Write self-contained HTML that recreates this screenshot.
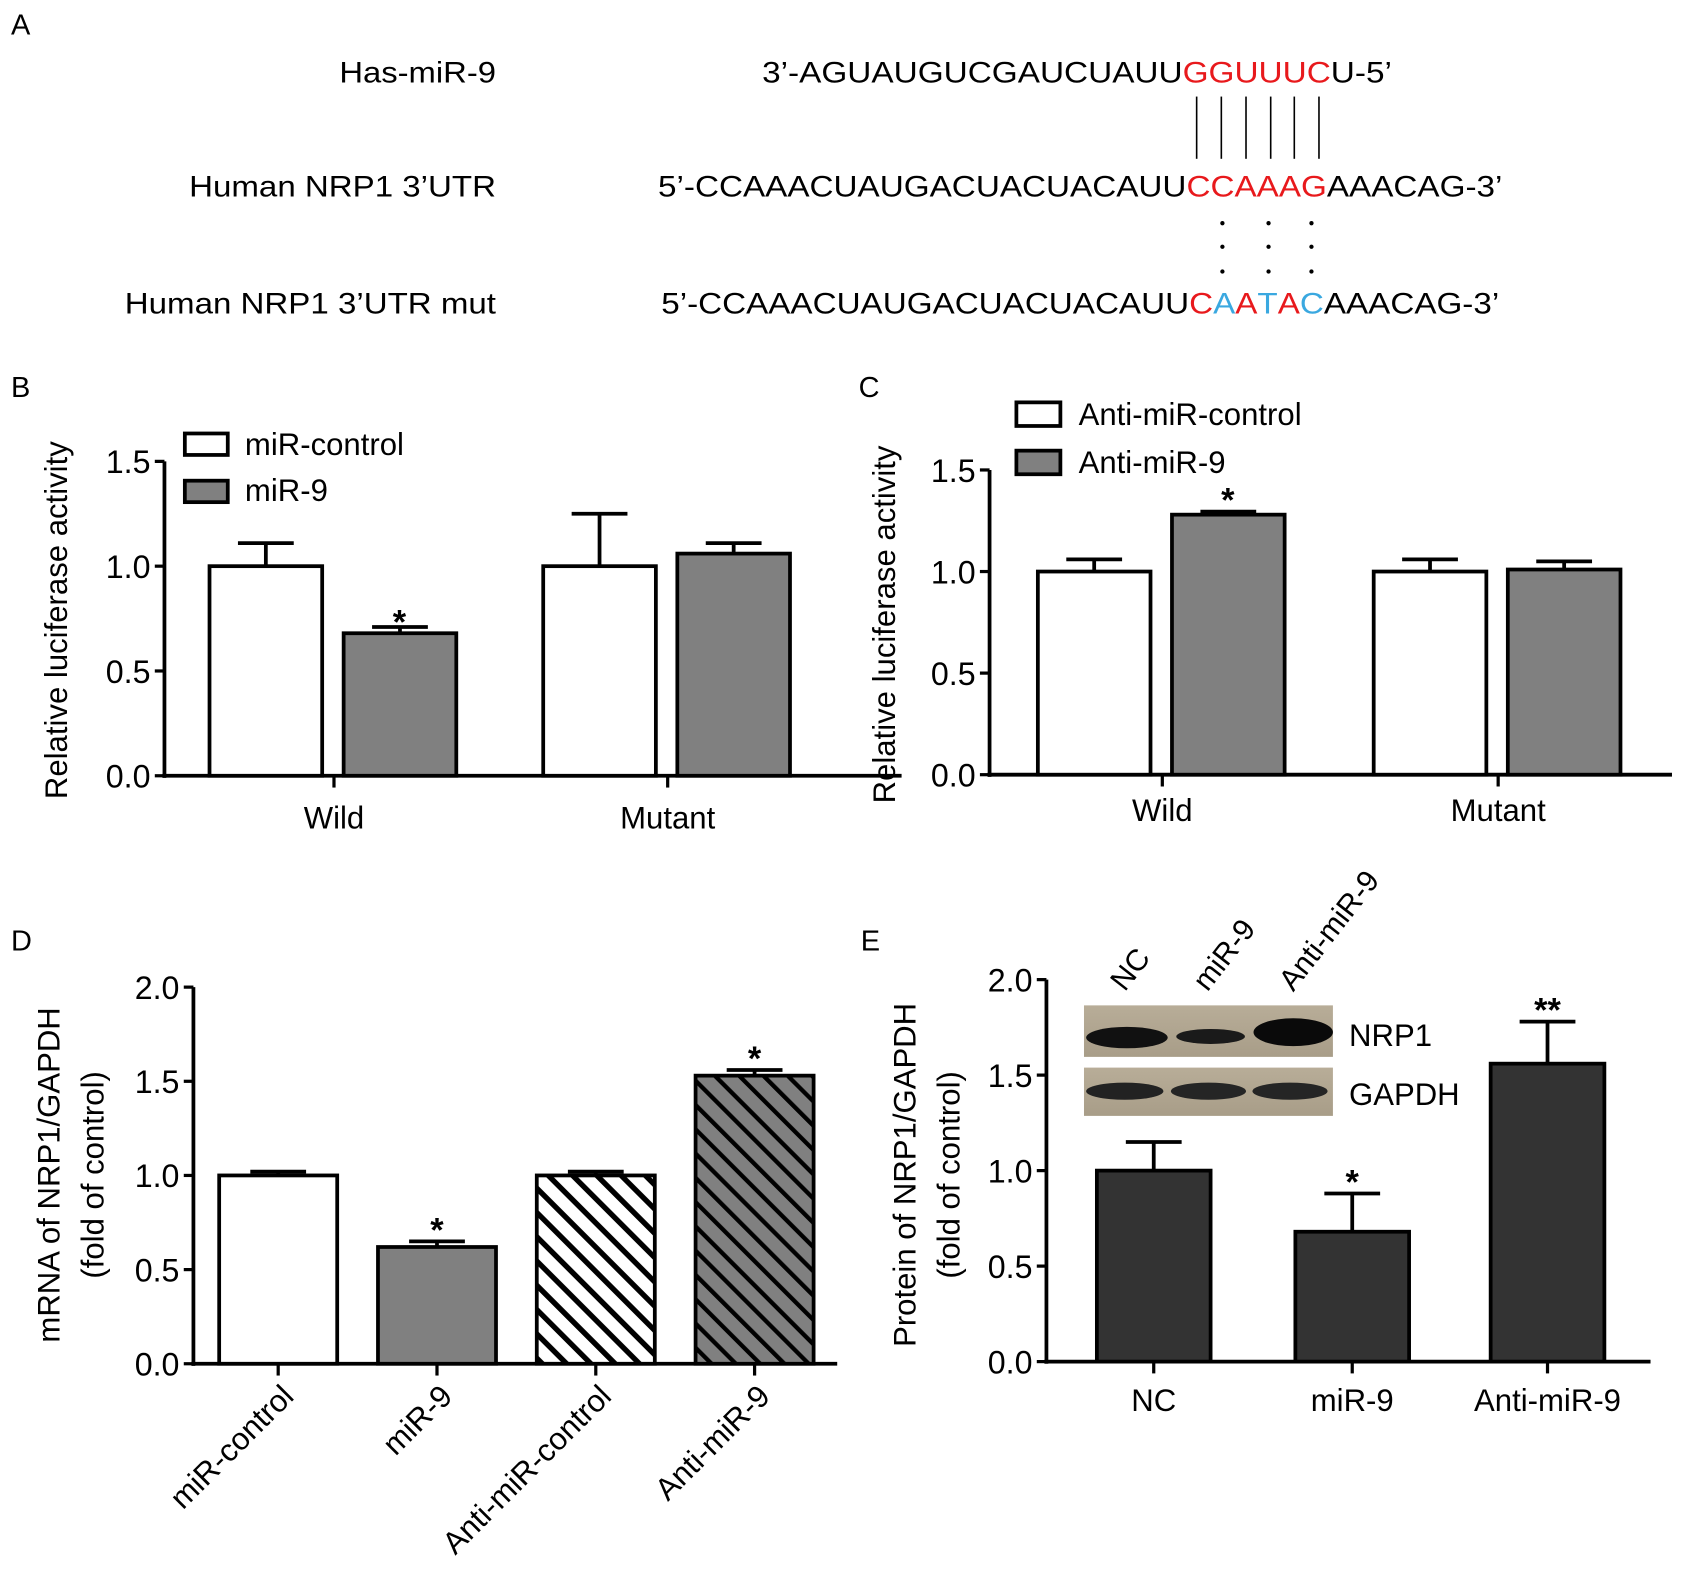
<!DOCTYPE html>
<html><head><meta charset="utf-8"><style>
html,body{margin:0;padding:0;background:#fff}
svg{display:block;font-family:"Liberation Sans",Arial,sans-serif}
</style></head><body>
<svg id="fig" width="1683" height="1588" viewBox="0 0 1568 1480" xmlns="http://www.w3.org/2000/svg">
<defs>
<pattern id="hatchW" patternUnits="userSpaceOnUse" width="16" height="16" patternTransform="rotate(-45)"><rect width="16" height="16" fill="#fff"/><rect x="0" y="0" width="5" height="16" fill="#000"/></pattern>
<pattern id="hatchG" patternUnits="userSpaceOnUse" width="16" height="16" patternTransform="rotate(-45)"><rect width="16" height="16" fill="#808080"/><rect x="0" y="0" width="4" height="16" fill="#000"/></pattern>
<linearGradient id="blotbg" x1="0" y1="0" x2="0" y2="1"><stop offset="0" stop-color="#b8ad98"/><stop offset="1" stop-color="#a89d88"/></linearGradient>
</defs>
<g font-size="27" fill="#000">
<text x="10" y="32">A</text>
<text x="10" y="370">B</text>
<text x="800" y="370">C</text>
<text x="10" y="886">D</text>
<text x="802" y="886">E</text>
</g>
<g font-size="28">
<text x="462" y="77" text-anchor="end" textLength="146" lengthAdjust="spacingAndGlyphs">Has-miR-9</text>
<text x="462" y="183" text-anchor="end" textLength="286" lengthAdjust="spacingAndGlyphs">Human NRP1 3’UTR</text>
<text x="462" y="292" text-anchor="end" textLength="346" lengthAdjust="spacingAndGlyphs">Human NRP1 3’UTR mut</text>
<text x="710" y="77" textLength="587" lengthAdjust="spacingAndGlyphs">3’-AGUAUGUCGAUCUAUU<tspan fill="#e8191c">GGUUUC</tspan>U-5’</text>
<text x="613" y="183" textLength="787" lengthAdjust="spacingAndGlyphs">5’-CCAAACUAUGACUACUACAUU<tspan fill="#e8191c">CCAAAG</tspan>AAACAG-3’</text>
<text x="616" y="292" textLength="781" lengthAdjust="spacingAndGlyphs">5’-CCAAACUAUGACUACUACAUU<tspan fill="#e8191c">C</tspan><tspan fill="#3aa8e0">A</tspan><tspan fill="#e8191c">A</tspan><tspan fill="#3aa8e0">T</tspan><tspan fill="#e8191c">A</tspan><tspan fill="#3aa8e0">C</tspan>AAACAG-3’</text>
<g stroke="#000" stroke-width="1.5">
<line x1="1115" y1="90" x2="1115" y2="148"/><line x1="1138" y1="90" x2="1138" y2="148"/><line x1="1161" y1="90" x2="1161" y2="148"/><line x1="1184" y1="90" x2="1184" y2="148"/><line x1="1206" y1="90" x2="1206" y2="148"/><line x1="1229" y1="90" x2="1229" y2="148"/>
</g>
<g fill="#000">
<circle cx="1139" cy="208" r="2"/><circle cx="1139" cy="230" r="2"/><circle cx="1139" cy="253" r="2"/>
<circle cx="1182" cy="208" r="2"/><circle cx="1182" cy="230" r="2"/><circle cx="1182" cy="253" r="2"/>
<circle cx="1222" cy="208" r="2"/><circle cx="1222" cy="230" r="2"/><circle cx="1222" cy="253" r="2"/>
</g>
</g>
<g id="charts"></g>
<g>
<rect x="1010" y="937" width="232" height="48" fill="url(#blotbg)"/>
<ellipse cx="1050" cy="967" rx="38" ry="10" fill="#111"/>
<ellipse cx="1128" cy="966" rx="32" ry="7" fill="#1a1a1a"/>
<ellipse cx="1205" cy="962" rx="37" ry="13" fill="#0a0a0a"/>
<rect x="1010" y="995" width="232" height="45" fill="url(#blotbg)"/>
<ellipse cx="1048" cy="1017" rx="36" ry="8" fill="#222"/>
<ellipse cx="1126" cy="1017" rx="35" ry="8" fill="#252525"/>
<ellipse cx="1202" cy="1017" rx="35" ry="8" fill="#252525"/>
<text x="1257" y="975" font-size="29">NRP1</text>
<text x="1257" y="1030" font-size="29">GAPDH</text>
<text transform="translate(1048,925) rotate(-52)" font-size="28">NC</text>
<text transform="translate(1125,925) rotate(-52)" font-size="28">miR-9</text>
<text transform="translate(1205,925) rotate(-52)" font-size="28">Anti-miR-9</text>
</g>
</svg>
<script>
// Panel B
const bCats = ["Wild", "Mutant"];
const bControl = [1.0, 1.0];
const bControlErr = [0.11, 0.25];
const bMir9 = [0.68, 1.06];
const bMir9Err = [0.03, 0.05];
const bTicks = ["0.0", "0.5", "1.0", "1.5"];
// Panel C
const cCats = ["Wild", "Mutant"];
const cControl = [1.0, 1.0];
const cControlErr = [0.06, 0.06];
const cAnti = [1.28, 1.01];
const cAntiErr = [0.015, 0.04];
const cTicks = ["0.0", "0.5", "1.0", "1.5"];
// Panel D
const dCats = ["miR-control", "miR-9", "Anti-miR-control", "Anti-miR-9"];
const dValues = [1.0, 0.62, 1.0, 1.53];
const dErr = [0.02, 0.03, 0.02, 0.03];
const dTicks = ["0.0", "0.5", "1.0", "1.5", "2.0"];
// Panel E
const eCats = ["NC", "miR-9", "Anti-miR-9"];
const eValues = [1.0, 0.68, 1.56];
const eErr = [0.15, 0.2, 0.22];
const eTicks = ["0.0", "0.5", "1.0", "1.5", "2.0"];

const NS = "http://www.w3.org/2000/svg";
const root = document.getElementById("charts");
function mk(tag, attrs, parent) {
  const e = document.createElementNS(NS, tag);
  for (const k in attrs) e.setAttribute(k, attrs[k]);
  (parent || root).appendChild(e);
  return e;
}
function txt(x, y, s, size, anchor, parent, tr) {
  const t = mk("text", {x: x, y: y, "font-size": size, "text-anchor": anchor || "middle"}, parent);
  if (tr) t.setAttribute("transform", tr);
  t.textContent = s;
  return t;
}
function axes(g, ax, y0, yTop, maxV, ticks, xEnd) {
  const sy = v => y0 - (y0 - yTop) * v / maxV;
  mk("line", {x1: ax, y1: y0 + 2, x2: ax, y2: yTop, stroke: "#000", "stroke-width": 3.5}, g);
  mk("line", {x1: ax - 2, y1: y0, x2: xEnd, y2: y0, stroke: "#000", "stroke-width": 3.5}, g);
  ticks.forEach((t, i) => {
    const v = parseFloat(t);
    mk("line", {x1: ax - 9, y1: sy(v), x2: ax, y2: sy(v), stroke: "#000", "stroke-width": 3}, g);
    const tl = txt(ax - 13, sy(v) + 11, t, 30, "end", g);
    
    
  });
  return sy;
}
function bar(g, x, w, y0, sy, v, err, fill, name) {
  const r = mk("rect", {x: x, y: sy(v), width: w, height: y0 - sy(v), fill: fill, stroke: "#000", "stroke-width": 3.5}, g);
  
  
  const e = mk("path", {d: `M${x + w / 2},${sy(v)}V${sy(v + err)}M${x + w / 2 - 26},${sy(v + err)}H${x + w / 2 + 26}`, stroke: "#000", "stroke-width": 3.5, fill: "none"}, g);
  
  
}
function star(g, x, y, s) {
  const t = txt(x, y + 4, s, 32, "middle", g);
  t.setAttribute("font-weight", "bold");
  
  
}

// ----- Panel B -----
{
  const g = mk("g", {});
  
  
  const y0 = 723, sy = axes(g, 153, y0, 430, 1.5, bTicks, 840);
  const centers = [311, 622];
  bCats.forEach((c, i) => {
    bar(g, centers[i] - 116, 105, y0, sy, bControl[i], bControlErr[i], "#fff", "bar-mir-control-" + c.toLowerCase());
    bar(g, centers[i] + 9, 105, y0, sy, bMir9[i], bMir9Err[i], "#808080", "bar-mir9-" + c.toLowerCase());
    mk("line", {x1: centers[i], y1: y0, x2: centers[i], y2: y0 + 11, stroke: "#000", "stroke-width": 3}, g);
    const l = txt(centers[i], 772, c, 29, "middle", g);
    
    
  });
  if (bMir9[0] < 0.9) star(g, centers[0] + 61, sy(bMir9[0] + bMir9Err[0]) + 2, "*");
  const yt = txt(0, 0, "Relative luciferase activity", 29, "middle", g, "translate(62,578) rotate(-90)");
  
  
  const lg = mk("g", {}, g);
  
  
  mk("rect", {x: 172, y: 404, width: 40, height: 20, fill: "#fff", stroke: "#000", "stroke-width": 3.5}, lg);
  txt(228, 424, "miR-control", 29, "start", lg);
  mk("rect", {x: 172, y: 448, width: 40, height: 20, fill: "#808080", stroke: "#000", "stroke-width": 3.5}, lg);
  txt(228, 467, "miR-9", 29, "start", lg);
}
// ----- Panel C -----
{
  const g = mk("g", {});
  
  
  const y0 = 722, sy = axes(g, 922, y0, 438, 1.5, cTicks, 1558);
  const centers = [1083, 1396];
  cCats.forEach((c, i) => {
    bar(g, centers[i] - 116, 105, y0, sy, cControl[i], cControlErr[i], "#fff", "bar-anti-control-" + c.toLowerCase());
    bar(g, centers[i] + 9, 105, y0, sy, cAnti[i], cAntiErr[i], "#808080", "bar-anti-mir9-" + c.toLowerCase());
    mk("line", {x1: centers[i], y1: y0, x2: centers[i], y2: y0 + 11, stroke: "#000", "stroke-width": 3}, g);
    const l = txt(centers[i], 765, c, 29, "middle", g);
    
    
  });
  star(g, centers[0] + 61, sy(cAnti[0] + cAntiErr[0]) - 4, "*");
  const yt = txt(0, 0, "Relative luciferase activity", 29, "middle", g, "translate(834,582) rotate(-90)");
  
  
  const lg = mk("g", {}, g);
  
  
  mk("rect", {x: 947, y: 375, width: 41, height: 22, fill: "#fff", stroke: "#000", "stroke-width": 3.5}, lg);
  txt(1005, 396, "Anti-miR-control", 29, "start", lg);
  mk("rect", {x: 947, y: 420, width: 41, height: 22, fill: "#808080", stroke: "#000", "stroke-width": 3.5}, lg);
  txt(1005, 441, "Anti-miR-9", 29, "start", lg);
}
// ----- Panel D -----
{
  const g = mk("g", {});
  
  
  const y0 = 1271, sy = axes(g, 180, y0, 920, 2.0, dTicks, 780);
  const fills = ["#fff", "#808080", "url(#hatchW)", "url(#hatchG)"];
  dCats.forEach((c, i) => {
    const cx = 259 + i * 148;
    bar(g, cx - 55, 110, y0, sy, dValues[i], dErr[i], fills[i], "bar-" + c.toLowerCase());
    mk("line", {x1: cx, y1: y0, x2: cx, y2: y0 + 11, stroke: "#000", "stroke-width": 3}, g);
    const l = txt(0, 0, c, 29, "end", g, `translate(${cx + 16},${y0 + 32}) rotate(-45)`);
    
    
  });
  star(g, 407, sy(dValues[1] + dErr[1]) - 4, "*");
  star(g, 703, sy(dValues[3] + dErr[3]) - 4, "*");
  const yt = txt(0, 0, "mRNA of NRP1/GAPDH", 29, "middle", g, "translate(55,1095) rotate(-90)");
  
  
  const yt2 = txt(0, 0, "(fold of control)", 29, "middle", g, "translate(96,1095) rotate(-90)");
  
  
}
// ----- Panel E -----
{
  const g = mk("g", {});
  
  
  const y0 = 1269, sy = axes(g, 975, y0, 913, 2.0, eTicks, 1538);
  const centers = [1075, 1260, 1442];
  eCats.forEach((c, i) => {
    bar(g, centers[i] - 53, 106, y0, sy, eValues[i], eErr[i], "#333", "bar-" + c.toLowerCase());
    mk("line", {x1: centers[i], y1: y0, x2: centers[i], y2: y0 + 11, stroke: "#000", "stroke-width": 3}, g);
    const l = txt(centers[i], 1315, c, 29, "middle", g);
    
    
  });
  star(g, centers[1], sy(eValues[1] + eErr[1]) - 4, "*");
  star(g, centers[2], sy(eValues[2] + eErr[2]) - 4, "**");
  const yt = txt(0, 0, "Protein of NRP1/GAPDH", 29, "middle", g, "translate(853,1095) rotate(-90)");
  
  
  const yt2 = txt(0, 0, "(fold of control)", 29, "middle", g, "translate(894,1095) rotate(-90)");
  
  
}
</script>
</body></html>
